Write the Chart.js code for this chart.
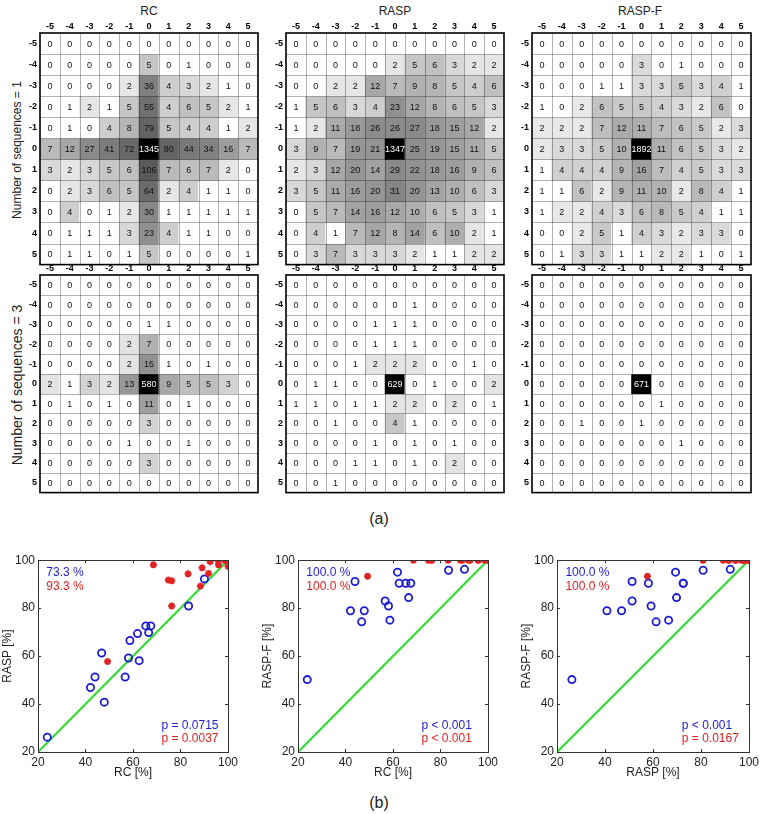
<!DOCTYPE html>
<html>
<head>
<meta charset="utf-8">
<script src="https://cdn.jsdelivr.net/npm/chart.js@4.4.1/dist/chart.umd.min.js"></script>
<style>
body{margin:0;background:#fff;width:762px;height:814px;position:relative;overflow:hidden;
     font-family:"Liberation Sans",Arial,sans-serif;color:#222}
canvas{position:absolute}
.lbl{position:absolute;white-space:nowrap;transform:translate(-50%,-50%)}
.rot{transform:translate(-50%,-50%) rotate(-90deg)}
</style>
</head>
<body>
<div class="lbl" style="left:149px;top:11px;font-size:12px">RC</div>
<div class="lbl" style="left:395px;top:11px;font-size:12px">RASP</div>
<div class="lbl" style="left:640px;top:11px;font-size:12px">RASP-F</div>
<div class="lbl rot" style="left:17px;top:150px;font-size:12px">Number of sequences = 1</div>
<div class="lbl rot" style="left:17px;top:385px;font-size:14px">Number of sequences = 3</div>
<div class="lbl" style="left:379px;top:519px;font-size:16px">(a)</div>
<div class="lbl" style="left:379px;top:803px;font-size:16px">(b)</div>

<canvas id="h-rc-1"   width="246" height="254" style="left:20px;top:19px"></canvas>
<canvas id="h-rasp-1" width="246" height="254" style="left:266px;top:19px"></canvas>
<canvas id="h-raspf-1" width="247" height="254" style="left:512px;top:19px"></canvas>
<canvas id="h-rc-3"   width="246" height="240" style="left:20px;top:261px"></canvas>
<canvas id="h-rasp-3" width="246" height="240" style="left:266px;top:261px"></canvas>
<canvas id="h-raspf-3" width="247" height="240" style="left:512px;top:261px"></canvas>

<canvas id="s-rc-rasp"    width="241" height="232" style="left:0px;top:550px"></canvas>
<canvas id="s-rc-raspf"   width="241" height="232" style="left:260px;top:550px"></canvas>
<canvas id="s-rasp-raspf" width="243" height="232" style="left:519px;top:550px"></canvas>

<script>
/* offset matrices + accuracy scatter */

const OFFSETS = [-5,-4,-3,-2,-1,0,1,2,3,4,5];
const OFFSET_LABELS = OFFSETS.map(String);

// rows = -5..5 (top to bottom), columns = -5..5
const rcSeq1 = [
  [0,0,0,0,0,0,0,0,0,0,0],
  [0,0,0,0,0,5,0,1,0,0,0],
  [0,0,0,0,2,36,4,3,2,1,0],
  [0,1,2,1,5,55,4,6,5,2,1],
  [0,1,0,4,8,79,5,4,4,1,2],
  [7,12,27,41,72,1345,80,44,34,16,7],
  [3,2,3,5,6,106,7,6,7,2,0],
  [0,2,3,6,5,64,2,4,1,1,0],
  [0,4,0,1,2,30,1,1,1,1,1],
  [0,1,1,1,3,23,4,1,1,0,0],
  [0,1,1,0,1,5,0,0,0,0,1]
];
const raspSeq1 = [
  [0,0,0,0,0,0,0,0,0,0,0],
  [0,0,0,0,0,2,5,6,3,2,2],
  [0,0,2,2,12,7,9,8,5,4,6],
  [1,5,6,3,4,23,12,8,6,5,3],
  [1,2,11,18,26,26,27,18,15,12,2],
  [3,9,7,19,21,1347,25,19,15,11,5],
  [2,3,12,20,14,29,22,18,16,9,6],
  [3,5,11,16,20,31,20,13,10,6,3],
  [0,5,7,14,16,12,10,6,5,3,1],
  [0,4,1,7,12,8,14,6,10,2,1],
  [0,3,7,3,3,3,2,1,1,2,2]
];
const raspFSeq1 = [
  [0,0,0,0,0,0,0,0,0,0,0],
  [0,0,0,0,0,3,0,1,0,0,0],
  [0,0,0,1,1,3,3,5,3,4,1],
  [1,0,2,6,5,5,4,3,2,6,0],
  [2,2,2,7,12,11,7,6,5,2,3],
  [2,3,3,5,10,1892,11,6,5,3,2],
  [1,4,4,4,9,16,7,4,5,3,3],
  [1,1,6,2,9,11,10,2,8,4,1],
  [1,2,2,4,3,6,8,5,4,1,1],
  [0,0,2,5,1,4,3,2,3,3,0],
  [0,1,3,3,1,1,2,2,1,0,1]
];
const rcSeq3 = [
  [0,0,0,0,0,0,0,0,0,0,0],
  [0,0,0,0,0,0,0,0,0,0,0],
  [0,0,0,0,0,1,1,0,0,0,0],
  [0,0,0,0,2,7,0,0,0,0,0],
  [0,0,0,0,2,15,1,0,1,0,0],
  [2,1,3,2,13,580,9,5,5,3,0],
  [0,1,0,1,0,11,0,1,0,0,0],
  [0,0,0,0,0,3,0,0,0,0,0],
  [0,0,0,0,1,0,0,1,0,0,0],
  [0,0,0,0,0,3,0,0,0,0,0],
  [0,0,0,0,0,0,0,0,0,0,0]
];
const raspSeq3 = [
  [0,0,0,0,0,0,0,0,0,0,0],
  [0,0,0,0,0,0,1,0,0,0,0],
  [0,0,0,0,1,1,1,0,0,0,0],
  [0,0,0,0,1,1,1,0,0,0,0],
  [0,0,0,1,2,2,2,0,0,1,0],
  [0,1,1,0,0,629,0,1,0,0,2],
  [1,1,0,1,1,2,2,0,2,0,1],
  [0,0,1,0,0,4,1,0,0,0,0],
  [0,0,0,0,1,0,1,0,1,0,0],
  [0,0,0,1,1,0,1,0,2,0,0],
  [0,0,1,0,0,0,0,0,0,0,0]
];
const raspFSeq3 = [
  [0,0,0,0,0,0,0,0,0,0,0],
  [0,0,0,0,0,0,0,0,0,0,0],
  [0,0,0,0,0,0,0,0,0,0,0],
  [0,0,0,0,0,0,0,0,0,0,0],
  [0,0,0,0,0,0,0,0,0,0,0],
  [0,0,0,0,0,671,0,0,0,0,0],
  [0,0,0,0,0,0,1,0,0,0,0],
  [0,0,1,0,0,1,0,0,0,0,0],
  [0,0,0,0,0,0,0,1,0,0,0],
  [0,0,0,0,0,0,0,0,0,0,0],
  [0,0,0,0,0,0,0,0,0,0,0]
];

// accuracy [%] per test case: blue circles / red stars
const rcBlue    = [23.9,42.1,44.0,46.8,47.9,56.7,58.1,58.7,61.9,62.6,65.4,66.6,67.5,83.4,90.1];
const raspBlue  = [26.2,46.9,51.3,61.3,40.8,51.3,59.2,66.5,69.4,58.1,72.6,69.8,72.6,80.9,92.2];
const raspFBlue = [50.2,78.9,91.1,74.3,78.9,83.0,80.9,75.0,95.0,90.4,90.4,84.4,90.4,95.8,96.2];
const rcRed     = [49.3,68.6,74.9,76.3,76.3,83.2,88.4,89.1,91.8,92.5,95.8,96.0,98.7,100,100];
const raspRed   = [57.7,98.1,91.7,91.4,80.9,94.3,89.2,96.8,94.5,99.4,99.9,98.1,99.9,99.9,97.5];
const raspFRed  = [93.3,100,100,100,100,100,100,100,100,100,100,100,100,100,100];
const diagLine  = [20,100];
const AXIS_TICKS = [20,40,60,80,100];

const BLUE = "#1c1cd6", RED = "#e32222", GREEN = "#33dd33";
const FONT = "'Liberation Sans', Arial, sans-serif";
Chart.defaults.font.family = FONT;
Chart.defaults.color = "#222";

// ── Heatmaps ────────────────────────────────────────────────────────────────
function shade(v,max){
    if(v<=1) return "rgb(255,255,255)";
    const g = Math.round(255*(1-Math.log(v)/Math.log(max)));
    return `rgb(${g},${g},${g})`;
}

function heatOverlay(matrix){
    const max = Math.max(...matrix.flat());
    return {
        id:"heatOverlay",
        afterDatasetsDraw(chart){
            const {ctx, chartArea:a, scales:{x,y}} = chart;
            ctx.save();
            ctx.strokeStyle = "rgba(0,0,0,.3)";
            ctx.lineWidth = 1;
            ctx.beginPath();
            for(let i=1;i<OFFSETS.length;i++){
                const px = Math.round((x.getPixelForValue(i-1)+x.getPixelForValue(i))/2)+.5;
                ctx.moveTo(px,a.top); ctx.lineTo(px,a.bottom);
                const py = Math.round(y.getPixelForValue(OFFSETS[i]-.5))+.5;
                ctx.moveTo(a.left,py); ctx.lineTo(a.right,py);
            }
            ctx.stroke();
            ctx.strokeStyle = "#000";
            ctx.lineWidth = 1.6;
            ctx.strokeRect(a.left,a.top,a.width,a.height);
            ctx.font = "9px "+FONT;
            ctx.textAlign = "center";
            ctx.textBaseline = "middle";
            chart.data.datasets.forEach((ds,r)=>{
                chart.getDatasetMeta(r).data.forEach((bar,c)=>{
                    const v = matrix[r][c];
                    ctx.fillStyle = v===max ? "#fff" : "#111";
                    ctx.fillText(String(v), bar.x, (bar.y+bar.base)/2+.5);
                });
            });
            ctx.restore();
        }
    };
}

function heatmap(id, matrix){
    const max = Math.max(...matrix.flat());
    new Chart(document.getElementById(id),{
        type:"bar",
        data:{labels:OFFSET_LABELS, datasets:OFFSETS.map((r,i)=>({
            data:OFFSETS.map(()=>[r-.5,r+.5]),
            backgroundColor:matrix[i].map(v=>shade(v,max)),
            borderWidth:0, barPercentage:1, categoryPercentage:1, grouped:false
        }))},
        options:{responsive:false, animation:false, events:[],
            layout:{padding:{top:0,right:8,bottom:8,left:0}},
            plugins:{legend:{display:false}, tooltip:{enabled:false}},
            scales:{
                x:{position:"top", grid:{display:false,drawTicks:false}, border:{display:false},
                   ticks:{font:{size:9,weight:"bold"}, color:"#000", padding:1},
                   afterFit:s=>{ s.height=14; }},
                y:{min:-5.5, max:5.5, reverse:true,
                   grid:{display:false,drawTicks:false}, border:{display:false},
                   afterBuildTicks:s=>{ s.ticks = OFFSETS.map(v=>({value:v})); },
                   ticks:{font:{size:9,weight:"bold"}, color:"#000", padding:3},
                   afterFit:s=>{ s.width=20; }}
            }},
        plugins:[heatOverlay(matrix)]
    });
}

heatmap("h-rc-1",   rcSeq1);
heatmap("h-rasp-1", raspSeq1);
heatmap("h-raspf-1",raspFSeq1);
heatmap("h-rc-3",   rcSeq3);
heatmap("h-rasp-3", raspSeq3);
heatmap("h-raspf-3",raspFSeq3);

// ── Scatter plots ───────────────────────────────────────────────────────────
function frameAndNotes(notes){
    return {
        id:"frameNotes",
        afterDraw(chart){
            const {ctx, chartArea:a, scales:{x,y}} = chart;
            ctx.save();
            ctx.strokeStyle = "#333";
            ctx.lineWidth = 1;
            ctx.strokeRect(Math.round(a.left)+.5, Math.round(a.top)+.5, Math.round(a.width), Math.round(a.height));
            ctx.beginPath();
            for(const t of AXIS_TICKS){
                const px = Math.round(x.getPixelForValue(t))+.5;
                ctx.moveTo(px,a.bottom); ctx.lineTo(px,a.bottom-3);
                ctx.moveTo(px,a.top);    ctx.lineTo(px,a.top+3);
                const py = Math.round(y.getPixelForValue(t))+.5;
                ctx.moveTo(a.left,py);  ctx.lineTo(a.left+3,py);
                ctx.moveTo(a.right,py); ctx.lineTo(a.right-3,py);
            }
            ctx.stroke();
            ctx.font = "12px "+FONT;
            ctx.textAlign = "left";
            ctx.textBaseline = "middle";
            for(const n of notes){
                ctx.fillStyle = n.color;
                ctx.fillText(n.text, x.getPixelForValue(n.x), y.getPixelForValue(n.y));
            }
            ctx.restore();
        }
    };
}

function scatter(id, xb, yb, xr, yr, xTitle, yTitle, notes){
    new Chart(document.getElementById(id),{
        type:"scatter",
        data:{datasets:[
            {data:xr.map((v,i)=>({x:v,y:yr[i]})), pointStyle:"star", radius:3.5,
             borderColor:RED, backgroundColor:RED, borderWidth:2},
            {data:xb.map((v,i)=>({x:v,y:yb[i]})), pointStyle:"circle", radius:3.6,
             borderColor:BLUE, backgroundColor:"rgba(0,0,0,0)", borderWidth:1.8},
            {type:"line", data:diagLine.map(v=>({x:v,y:v})), borderColor:GREEN,
             borderWidth:2.2, pointRadius:0, fill:false}
        ]},
        options:{responsive:false, animation:false, events:[],
            layout:{padding:{top:10,right:12,bottom:0,left:0}},
            plugins:{legend:{display:false}, tooltip:{enabled:false}},
            scales:{
                x:{type:"linear", min:20, max:100,
                   afterBuildTicks:s=>{ s.ticks = AXIS_TICKS.map(v=>({value:v})); },
                   ticks:{font:{size:12}, color:"#222", padding:3},
                   grid:{display:false,drawTicks:false}, border:{display:false},
                   title:{display:true, text:xTitle, color:"#222", font:{size:12}, padding:{top:0,bottom:2}},
                   afterFit:s=>{ s.height=30; }},
                y:{type:"linear", min:20, max:100,
                   afterBuildTicks:s=>{ s.ticks = AXIS_TICKS.map(v=>({value:v})); },
                   ticks:{font:{size:12}, color:"#222", padding:3},
                   grid:{display:false,drawTicks:false}, border:{display:false},
                   title:{display:true, text:yTitle, color:"#222", font:{size:12}, padding:{top:0,bottom:0}},
                   afterFit:s=>{ s.width=38; }}
            }},
        plugins:[frameAndNotes(notes)]
    });
}

function notesFor(bluePct, redPct, blueP, redP){
    return [
        {x:23.5, y:94.6, text:bluePct, color:BLUE},
        {x:23.5, y:88.8, text:redPct,  color:RED},
        {x:72,   y:30.8, text:blueP,   color:BLUE},
        {x:72,   y:25.4, text:redP,    color:RED}
    ];
}

scatter("s-rc-rasp", rcBlue, raspBlue, rcRed, raspRed, "RC [%]", "RASP [%]",
        notesFor("73.3 %","93.3 %","p = 0.0715","p = 0.0037"));
scatter("s-rc-raspf", rcBlue, raspFBlue, rcRed, raspFRed, "RC [%]", "RASP-F [%]",
        notesFor("100.0 %","100.0 %","p < 0.001","p < 0.001"));
scatter("s-rasp-raspf", raspBlue, raspFBlue, raspRed, raspFRed, "RASP [%]", "RASP-F [%]",
        notesFor("100.0 %","100.0 %","p < 0.001","p = 0.0167"));
</script>
</body>
</html>
